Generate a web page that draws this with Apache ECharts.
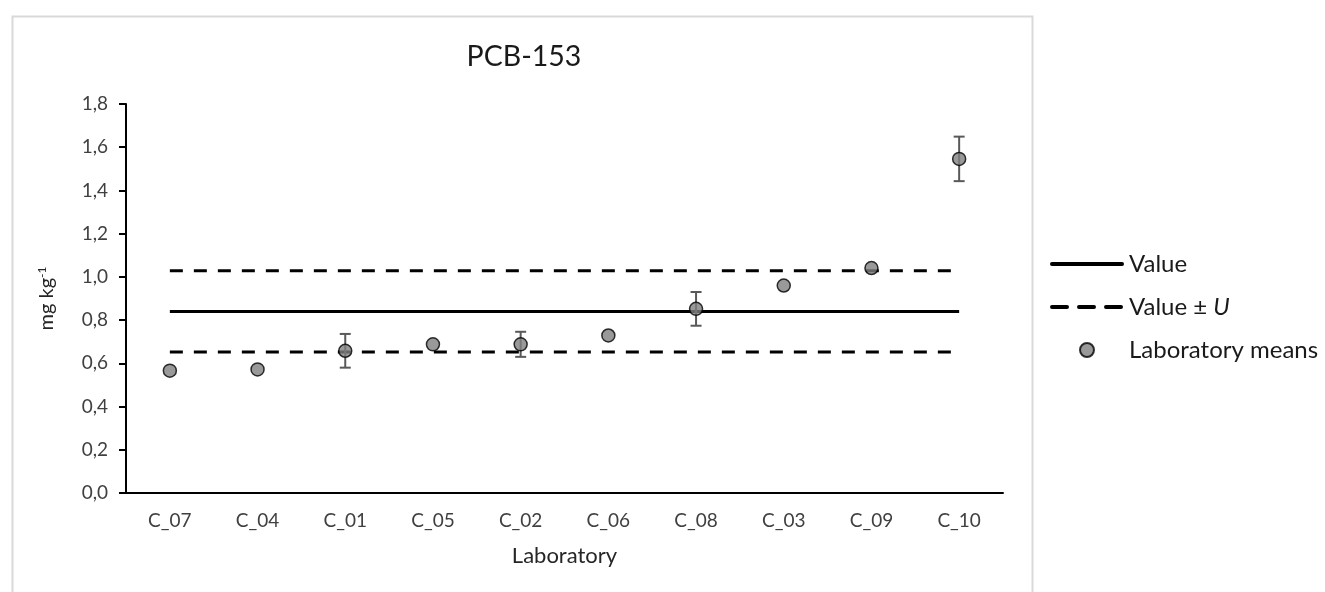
<!DOCTYPE html>
<html>
<head>
<meta charset="utf-8">
<script src="https://cdn.jsdelivr.net/npm/echarts@6/dist/echarts.min.js"></script>
<style>
html,body{margin:0;padding:0;background:#fff;}
#chart{width:1325px;height:592px;}
</style>
</head>
<body>
<div id="chart"></div>
<script>
const categories = ['C_07','C_04','C_01','C_05','C_02','C_06','C_08','C_03','C_09','C_10'];
const labMeans = [0.566, 0.572, 0.658, 0.688, 0.688, 0.729, 0.852, 0.960, 1.041, 1.546];
const labUncert = [0, 0, 0.078, 0, 0.058, 0, 0.078, 0, 0, 0.103];
const valueLine = [0.840, 0.840, 0.840, 0.840, 0.840, 0.840, 0.840, 0.840, 0.840, 0.840];
const upperLine = [1.028, 1.028, 1.028, 1.028, 1.028, 1.028, 1.028, 1.028, 1.028, 1.028];
const lowerLine = [0.652, 0.652, 0.652, 0.652, 0.652, 0.652, 0.652, 0.652, 0.652, 0.652];
const yTicks = { min: 0, max: 1.8, interval: 0.2 };

const FONT = 'Lato';
const chart = echarts.init(document.getElementById('chart'), null, { renderer: 'canvas' });

const errData = categories.map((c, i) => [i, labMeans[i], labUncert[i]]);

const option = {
  backgroundColor: '#ffffff',
  animation: false,
  textStyle: { fontFamily: FONT },
  graphic: [{
    type: 'rect',
    left: 10, top: 14,
    shape: { width: 1020, height: 620 },
    style: { fill: 'none', stroke: '#d9d9d9', lineWidth: 2 },
    silent: true, z: -10
  }],
  title: {
    text: 'PCB-153',
    left: 519, top: 37,
    textAlign: 'center',
    textStyle: { fontFamily: FONT, fontSize: 28.5, fontWeight: 'normal', color: '#1a1a1a' }
  },
  legend: {
    orient: 'vertical',
    left: 1045, top: 247,
    itemWidth: 70, itemHeight: 14,
    itemGap: 19,
    data: [
      { name: 'Value', itemStyle: { opacity: 0 }, lineStyle: { width: 4, type: 'solid', cap: 'round' } },
      { name: 'Value ± U', itemStyle: { opacity: 0 }, lineStyle: { width: 4, type: [15, 12], cap: 'round' } },
      { name: 'Laboratory means' }
    ],
    formatter: function (name) {
      if (name === 'Value ± U') return 'Value ± {i|U}';
      return name;
    },
    textStyle: {
      fontFamily: FONT, fontSize: 24, color: '#1a1a1a', padding: [0, 0, 0, 2],
      rich: { i: { fontFamily: FONT, fontSize: 24, fontStyle: 'italic', color: '#1a1a1a' } }
    }
  },
  grid: { left: 126, right: 322, top: 104, bottom: 99 },
  xAxis: {
    type: 'category',
    data: categories,
    boundaryGap: true,
    name: 'Laboratory',
    nameLocation: 'middle',
    nameGap: 52,
    nameTextStyle: { fontFamily: FONT, fontSize: 22, color: '#262626' },
    axisLine: { lineStyle: { color: '#000', width: 2 } },
    axisTick: { show: false },
    axisLabel: { fontFamily: FONT, fontSize: 19, color: '#404040', margin: 18 },
    splitLine: { show: false }
  },
  yAxis: {
    type: 'value',
    min: yTicks.min, max: yTicks.max, interval: yTicks.interval,
    name: 'mg kg{sup|-1}',
    nameLocation: 'middle',
    nameRotate: 90,
    nameGap: 68,
    nameTextStyle: {
      fontFamily: FONT, fontSize: 20, color: '#262626',
      rich: { sup: { fontFamily: FONT, fontSize: 12, color: '#262626', verticalAlign: 'top', lineHeight: 22 } }
    },
    axisLine: { show: true, lineStyle: { color: '#000', width: 2 } },
    axisTick: { show: true, length: 7, lineStyle: { color: '#000', width: 2 } },
    axisLabel: {
      fontFamily: FONT, fontSize: 19, color: '#404040', margin: 18,
      formatter: v => v.toFixed(1).replace('.', ',')
    },
    splitLine: { show: false }
  },
  series: [
    {
      name: 'Value', type: 'line', data: valueLine, symbol: 'none', z: 1,
      lineStyle: { color: '#000', width: 3, type: 'solid' },
      itemStyle: { color: '#000' }
    },
    {
      name: 'Value ± U', type: 'line', data: upperLine, symbol: 'none', z: 1,
      lineStyle: { color: '#000', width: 3, type: [13, 11] },
      itemStyle: { color: '#000' }
    },
    {
      name: 'Value ± U', type: 'line', data: lowerLine, symbol: 'none', z: 1,
      lineStyle: { color: '#000', width: 3, type: [13, 11] },
      itemStyle: { color: '#000' }
    },
    {
      type: 'custom', z: 2, silent: true,
      data: errData,
      renderItem: function (params, api) {
        const i = api.value(0), m = api.value(1), e = api.value(2);
        if (!e) return null;
        const top = api.coord([i, m + e]);
        const bot = api.coord([i, m - e]);
        const hw = 5.5;
        const st = { stroke: '#595959', lineWidth: 2 };
        return {
          type: 'group',
          children: [
            { type: 'line', shape: { x1: top[0], y1: top[1], x2: bot[0], y2: bot[1] }, style: st },
            { type: 'line', shape: { x1: top[0] - hw, y1: top[1], x2: top[0] + hw, y2: top[1] }, style: st },
            { type: 'line', shape: { x1: bot[0] - hw, y1: bot[1], x2: bot[0] + hw, y2: bot[1] }, style: st }
          ]
        };
      }
    },
    {
      name: 'Laboratory means', type: 'scatter', data: labMeans, z: 3,
      symbol: 'circle', symbolSize: 13,
      itemStyle: { color: '#808080', borderColor: '#000', borderWidth: 1.5 }
    }
  ]
};
chart.setOption(option);
</script>
</body>
</html>
